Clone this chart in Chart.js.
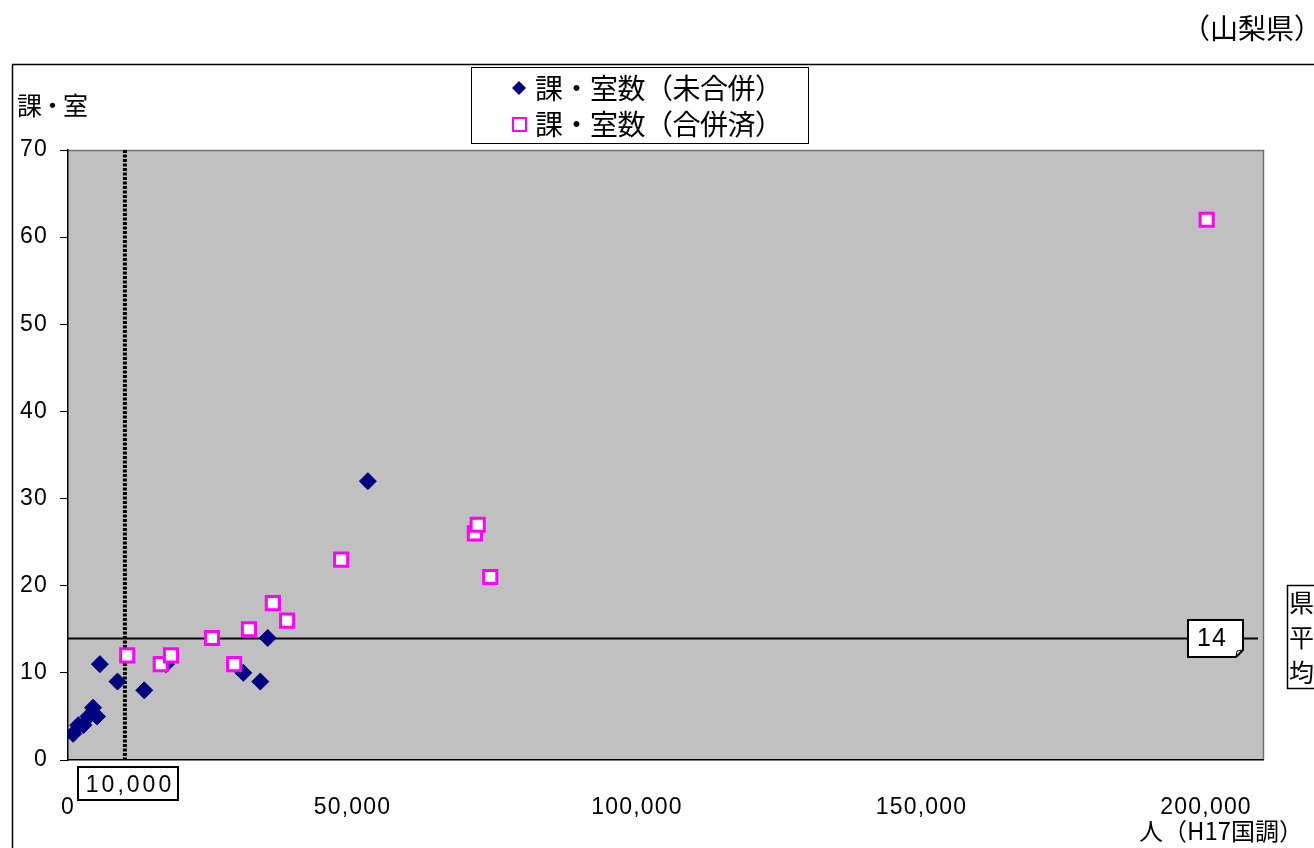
<!DOCTYPE html>
<html lang="ja">
<head>
<meta charset="utf-8">
<title>課・室数と人口（山梨県）</title>
<script src="https://cdn.jsdelivr.net/npm/chart.js@4/dist/chart.umd.min.js"></script>
<style>
  html, body { margin: 0; padding: 0; background: #ffffff; }
  #wrap { width: 1314px; height: 848px; position: relative; }
</style>
</head>
<body>
<div id="wrap"><canvas id="chart" width="1314" height="848"></canvas></div>
<script>
// 人口（H17国調）
const populationUnmerged = [900, 1800, 2700, 3600, 4400, 5100, 5600, 8700, 13400, 17200, 30800, 33800, 35100, 52700];
// 課・室数（未合併）
const sectionsUnmerged  = [3, 4, 4, 5, 6, 5, 11, 9, 8, 11, 10, 9, 14, 32];

const populationMerged = [10400, 16300, 18100, 25300, 29200, 31800, 36000, 38500, 48000, 71500, 72000, 74200, 200100];
// 課・室数（合併済）
const sectionsMerged   = [12, 11, 12, 14, 11, 15, 18, 16, 23, 26, 27, 21, 62];

const prefAverage = 14;          // 県平均
const populationLine = 10000;    // 人口 1万人

const xTickValues = [0, 50000, 100000, 150000, 200000];
const yTickValues = [0, 10, 20, 30, 40, 50, 60, 70];
const xMax = 210000;
const yMax = 70;

const seriesNames = ['課・室数（未合併）', '課・室数（合併済）'];
const yTitle = '課・室';
const xTitle = '人（H17国調）';
const regionTitle = '（山梨県）';
const averageLabel = ['県', '平', '均'];

const toPoints = (xs, ys) => xs.map((x, i) => ({ x: x, y: ys[i] }));

const NUM_FONT = "'Liberation Sans', Arial, 'Noto Sans CJK JP', sans-serif";
const JP_FONT = "'Noto Sans CJK JP', 'Liberation Sans', sans-serif";

function setSpacing(ctx, px) {
  if ('letterSpacing' in ctx) ctx.letterSpacing = px + 'px';
}

const decorations = {
  id: 'decorations',
  beforeDraw(chart) {
    const { ctx, chartArea: a } = chart;
    // slightly wider digit spacing for the axis labels
    setSpacing(ctx, 1.2);
    ctx.save();
    // plot area
    ctx.fillStyle = '#c0c0c0';
    ctx.fillRect(a.left, a.top, a.right - a.left, a.bottom - a.top);
    ctx.strokeStyle = '#707070';
    ctx.lineWidth = 1.5;
    ctx.beginPath();
    ctx.moveTo(a.left, a.top + 0.5);
    ctx.lineTo(a.right + 0.5, a.top + 0.5);
    ctx.lineTo(a.right + 0.5, a.bottom);
    ctx.stroke();
    // chart frame
    ctx.strokeStyle = '#000000';
    ctx.lineWidth = 1.5;
    ctx.beginPath();
    ctx.moveTo(12.5, 848);
    ctx.lineTo(12.5, 64.5);
    ctx.lineTo(1314, 64.5);
    ctx.stroke();
    ctx.restore();
  },
  beforeDatasetsDraw(chart) {
    const { ctx, chartArea: a, scales: { x, y } } = chart;
    ctx.save();
    // 県平均 line
    const yAvg = Math.round(y.getPixelForValue(prefAverage)) + 0.5;
    ctx.strokeStyle = '#000000';
    ctx.lineWidth = 2;
    ctx.beginPath();
    ctx.moveTo(a.left, yAvg);
    ctx.lineTo(a.right - 5, yAvg);
    ctx.stroke();
    // 1万人 line
    const xLine = x.getPixelForValue(populationLine);
    ctx.lineWidth = 4;
    ctx.setLineDash([3, 1.5]);
    ctx.beginPath();
    ctx.moveTo(xLine, a.top);
    ctx.lineTo(xLine, a.bottom);
    ctx.stroke();
    ctx.restore();
  },
  afterDraw(chart) {
    const { ctx, scales: { x, y } } = chart;
    ctx.save();
    ctx.textBaseline = 'middle';
    ctx.fillStyle = '#000000';

    // region title
    setSpacing(ctx, 0);
    ctx.font = '28px ' + JP_FONT;
    ctx.textAlign = 'right';
    ctx.fillText(regionTitle, 1322, 28);

    // y title
    setSpacing(ctx, -2);
    ctx.font = '25px ' + JP_FONT;
    ctx.textAlign = 'left';
    ctx.fillText(yTitle, 17, 105);

    // x title
    setSpacing(ctx, 0);
    ctx.font = '24px ' + JP_FONT;
    ctx.textAlign = 'left';
    ctx.fillText(xTitle, 1139, 831);

    // legend
    ctx.fillStyle = '#ffffff';
    ctx.fillRect(471, 67, 337, 76);
    ctx.strokeStyle = '#000000';
    ctx.lineWidth = 1;
    ctx.strokeRect(471.5, 67.5, 337, 76);
    // diamond marker
    ctx.fillStyle = '#000080';
    ctx.beginPath();
    ctx.moveTo(519, 81); ctx.lineTo(526, 88); ctx.lineTo(519, 95); ctx.lineTo(512, 88);
    ctx.closePath();
    ctx.fill();
    // square marker
    ctx.fillStyle = '#ffffff';
    ctx.strokeStyle = '#ff00ff';
    ctx.lineWidth = 2;
    ctx.fillRect(513, 118, 13, 13);
    ctx.strokeRect(513, 118, 13, 13);
    ctx.fillStyle = '#000000';
    setSpacing(ctx, -0.5);
    ctx.font = '28px ' + JP_FONT;
    ctx.textAlign = 'left';
    ctx.fillText(seriesNames[0], 535, 88);
    ctx.fillText(seriesNames[1], 535, 124);

    // 10,000 label box
    const xLine = x.getPixelForValue(populationLine);
    const bx = Math.round(xLine) - 47, by = 767, bw = 100, bh = 33;
    ctx.fillStyle = '#ffffff';
    ctx.fillRect(bx, by, bw, bh);
    ctx.strokeStyle = '#000000';
    ctx.lineWidth = 2;
    ctx.strokeRect(bx, by, bw, bh);
    ctx.fillStyle = '#000000';
    ctx.font = '23px ' + NUM_FONT;
    ctx.textAlign = 'center';
    setSpacing(ctx, 3);
    ctx.fillText(populationLine.toLocaleString('en-US'), bx + bw / 2 + 2, by + bh / 2 + 2);

    // 14 label box with folded corner
    const yAvg = y.getPixelForValue(prefAverage);
    const lx = 1188, ly = Math.round(yAvg) - 18, lw = 55, lh = 37;
    ctx.fillStyle = '#ffffff';
    ctx.beginPath();
    ctx.moveTo(lx, ly);
    ctx.lineTo(lx + lw, ly);
    ctx.lineTo(lx + lw, ly + lh - 7);
    ctx.lineTo(lx + lw - 7, ly + lh);
    ctx.lineTo(lx, ly + lh);
    ctx.closePath();
    ctx.fill();
    ctx.strokeStyle = '#000000';
    ctx.lineWidth = 2;
    ctx.stroke();
    ctx.lineWidth = 1;
    ctx.beginPath();
    ctx.moveTo(lx + lw - 7, ly + lh);
    ctx.lineTo(lx + lw - 6, ly + lh - 6);
    ctx.lineTo(lx + lw, ly + lh - 7);
    ctx.stroke();
    ctx.fillStyle = '#000000';
    ctx.font = '25px ' + NUM_FONT;
    ctx.textAlign = 'left';
    setSpacing(ctx, 1);
    ctx.fillText(String(prefAverage), lx + 9, ly + lh / 2 + 1);

    // 県平均 box
    setSpacing(ctx, 0);
    ctx.fillStyle = '#ffffff';
    ctx.fillRect(1287, 585, 40, 104);
    ctx.strokeStyle = '#000000';
    ctx.lineWidth = 1.5;
    ctx.strokeRect(1287.5, 585.5, 40, 103);
    ctx.fillStyle = '#000000';
    ctx.font = '25px ' + JP_FONT;
    ctx.textAlign = 'left';
    averageLabel.forEach((ch, i) => ctx.fillText(ch, 1289, 602 + i * 35));

    ctx.restore();
    setSpacing(ctx, 0);
  }
};

new Chart(document.getElementById('chart'), {
  type: 'scatter',
  data: {
    datasets: [
      {
        label: seriesNames[0],
        data: toPoints(populationUnmerged, sectionsUnmerged),
        pointStyle: 'rectRot',
        pointRadius: 8.5,
        pointHoverRadius: 8.5,
        backgroundColor: '#000080',
        borderColor: '#000080',
        borderWidth: 1,
        order: 2
      },
      {
        label: seriesNames[1],
        data: toPoints(populationMerged, sectionsMerged),
        pointStyle: 'rect',
        pointRadius: 9.3,
        pointHoverRadius: 9.3,
        backgroundColor: '#ffffff',
        borderColor: '#ff00ff',
        borderWidth: 3,
        order: 1
      }
    ]
  },
  options: {
    responsive: false,
    animation: false,
    layout: { padding: { top: 150, right: 51, left: 0, bottom: 0 } },
    plugins: {
      legend: { display: false },
      tooltip: { enabled: false },
      title: { display: false }
    },
    scales: {
      x: {
        type: 'linear',
        min: 0,
        max: xMax,
        afterFit(scale) { scale.height = 88; },
        afterBuildTicks(scale) { scale.ticks = xTickValues.map(v => ({ value: v })); },
        border: { display: true, color: '#000000', width: 1.5 },
        grid: { display: false },
        ticks: {
          autoSkip: false,
          maxRotation: 0,
          padding: 26,
          color: '#000000',
          font: { family: NUM_FONT, size: 23 },
          callback: (v) => Number(v).toLocaleString('en-US')
        }
      },
      y: {
        type: 'linear',
        min: 0,
        max: yMax,
        afterFit(scale) { scale.width = 68; },
        afterBuildTicks(scale) { scale.ticks = yTickValues.map(v => ({ value: v })); },
        border: { display: true, color: '#000000', width: 1.5 },
        grid: { display: true, drawOnChartArea: false, drawTicks: true, tickLength: 8, color: '#000000', lineWidth: 1 },
        ticks: {
          autoSkip: false,
          padding: 12,
          color: '#000000',
          font: { family: NUM_FONT, size: 23 }
        }
      }
    }
  },
  plugins: [decorations]
});
</script>
</body>
</html>
